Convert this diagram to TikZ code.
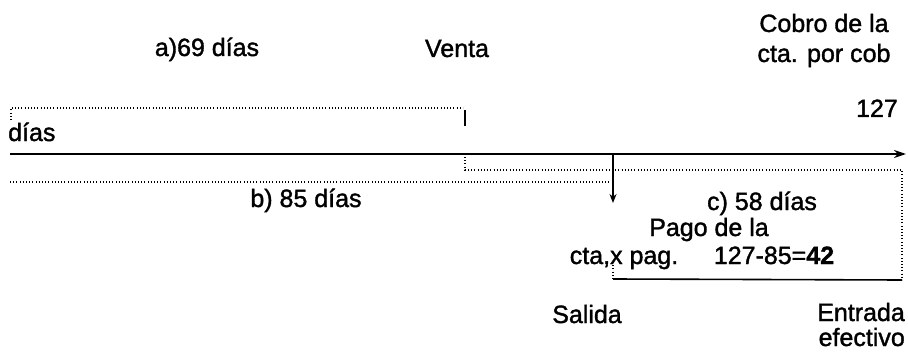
\documentclass[tikz,border=0pt]{standalone}
\usepackage{fontspec}
\setmainfont{Liberation Sans}[FakeBold=1.4]
\usetikzlibrary{arrows.meta}
\begin{document}
\begin{tikzpicture}[x=1pt,y=-1pt,
  lbl/.style={inner sep=0pt,font=\fontsize{25}{29}\selectfont},
  axisline/.style={line width=1.8pt,-{Stealth[length=12pt,width=8pt]}},
  dotline/.style={line width=1.3pt,dash pattern=on 1pt off 2.2pt},
  solidline/.style={line width=1.6pt}]
\useasboundingbox (0,0) rectangle (908,353);

% time axis
\coordinate (axL) at (10,154);
\coordinate (axR) at (906,154);
\draw[axisline] (axL) -- (axR);

% a) bracket up to the sale
\coordinate (aL) at (11,120);
\coordinate (aTL) at (11,108);
\coordinate (aTR) at (463,108);
\draw[dotline] (aL) -- (aTL) -- (aTR);
\coordinate (tickT) at (465,110);
\coordinate (tickB) at (465,126);
\draw[solidline] (tickT) -- (tickB);

% c) bracket from the sale to collection
\coordinate (cA) at (465,157);
\coordinate (cB) at (465,170);
\coordinate (cC) at (902,170);
\coordinate (cD) at (902,280);
\draw[dotline] (cA) -- (cB) -- (cC) -- (cD);
\coordinate (cE) at (613,279);
\coordinate (cF) at (613,262);
\draw[solidline] (cE) -- (cD);
\draw[dotline] (cF) -- (cE);

% b) line up to payment
\coordinate (bL) at (10,182);
\coordinate (bR) at (611,182);
\draw[dotline] (bL) -- (bR);

% payment arrow
\coordinate (pT) at (613,155);
\coordinate (pB) at (613,203);
\draw[line width=1.6pt,-{Stealth[length=9pt,width=7pt]}] (pT) -- (pB);

% labels
\node[lbl,anchor=base] (ta) at (207,56) {a)69 días};
\node[lbl,anchor=base] (tventa) at (457,57) {Venta};
\node[lbl,anchor=base] (tcobro1) at (824,32) {Cobro de la};
\node[lbl,anchor=base] (tcobro2) at (824,62) {cta. por cob};
\node[lbl,anchor=base east] (t127) at (898,117) {127};
\node[lbl,anchor=base west] (tdias) at (8,141) {días};
\node[lbl,anchor=base] (tb) at (306,207) {b) 85 días};
\node[lbl,anchor=base] (tc) at (762,210) {c) 58 días};
\node[lbl,anchor=base] (tpago1) at (709,236) {Pago de la};
\node[lbl,anchor=base] (tpago2) at (624,264) {cta,x pag.};
\node[lbl,anchor=base] (tcalc) at (774,264) {127-85={\bfseries 42}};
\node[lbl,anchor=base] (tsalida) at (587,323) {Salida};
\node[lbl,anchor=base east] (tentrada1) at (905,321) {Entrada};
\node[lbl,anchor=base east] (tentrada2) at (905,346) {efectivo};
\end{tikzpicture}
\end{document}
